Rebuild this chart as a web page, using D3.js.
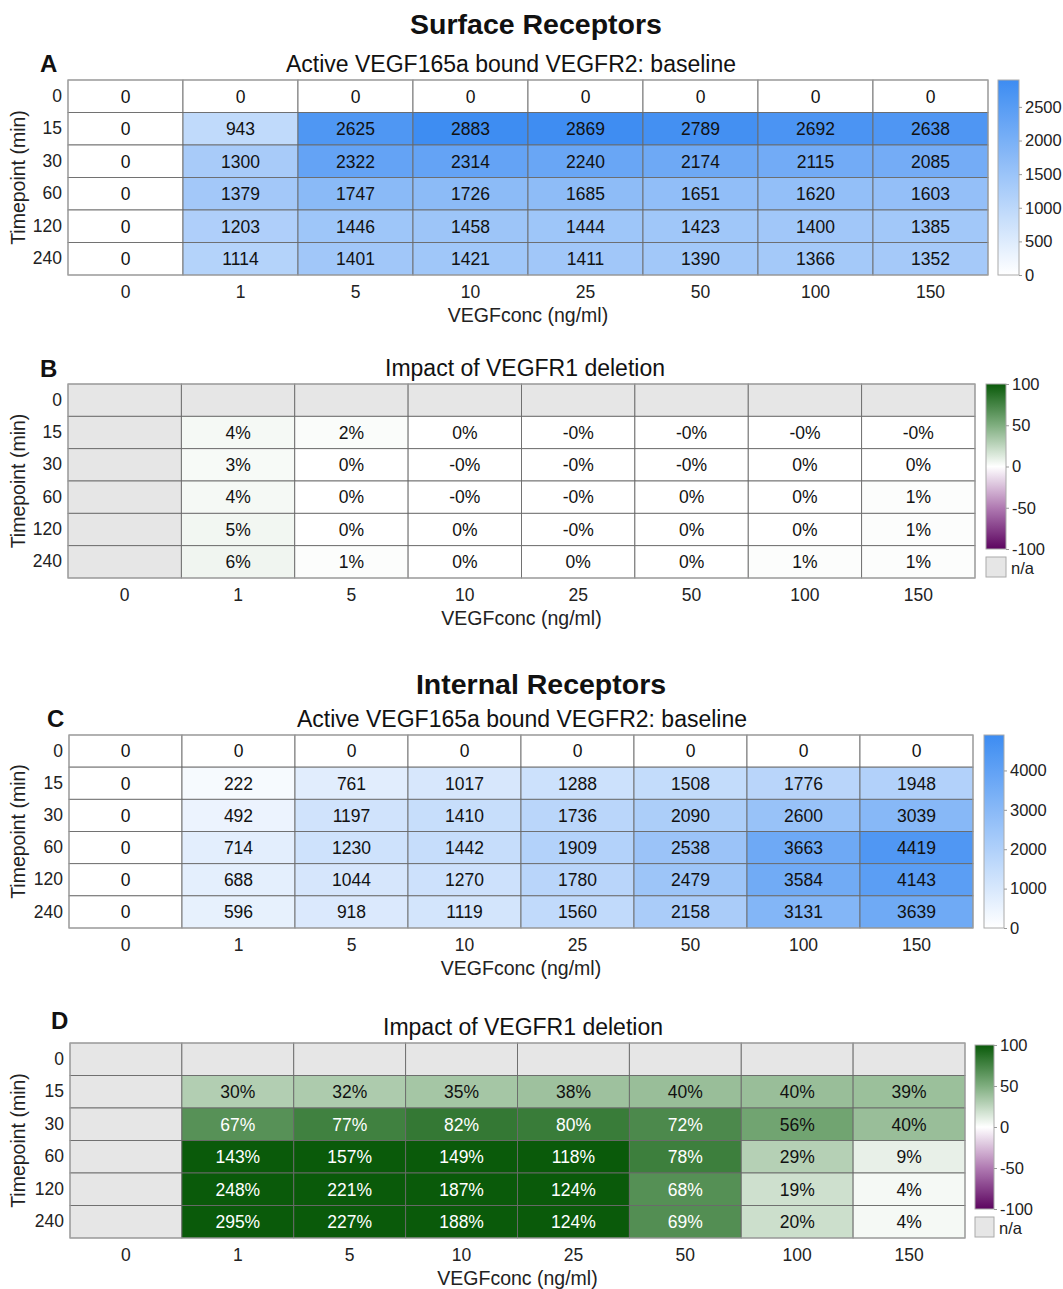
<!DOCTYPE html>
<html><head><meta charset="utf-8">
<script src="https://cdn.jsdelivr.net/npm/d3@7"></script>
<style>body{margin:0;background:#fff}svg{display:block}text{font-family:"Liberation Sans",Arial,Helvetica,sans-serif}</style>
</head><body>
<script>
const concs = ["0","1","5","10","25","50","100","150"];
const timepoints = ["0","15","30","60","120","240"];

// Panel A: surface receptors baseline (rows = timepoints, cols = concs)
const surfaceBaseline = [
  [0,0,0,0,0,0,0,0],
  [0,943,2625,2883,2869,2789,2692,2638],
  [0,1300,2322,2314,2240,2174,2115,2085],
  [0,1379,1747,1726,1685,1651,1620,1603],
  [0,1203,1446,1458,1444,1423,1400,1385],
  [0,1114,1401,1421,1411,1390,1366,1352]
];
// Panel B: impact of VEGFR1 deletion, surface (%), null = n/a
const surfaceImpact = [
  [null,null,null,null,null,null,null,null],
  [null,4,2,0,-0.1,-0.1,-0.1,-0.1],
  [null,3,0,-0.1,-0.1,-0.1,0,0],
  [null,4,0,-0.1,-0.1,0,0,1],
  [null,5,0,0,-0.1,0,0,1],
  [null,6,1,0,0,0,1,1]
];
// Panel C: internal receptors baseline
const internalBaseline = [
  [0,0,0,0,0,0,0,0],
  [0,222,761,1017,1288,1508,1776,1948],
  [0,492,1197,1410,1736,2090,2600,3039],
  [0,714,1230,1442,1909,2538,3663,4419],
  [0,688,1044,1270,1780,2479,3584,4143],
  [0,596,918,1119,1560,2158,3131,3639]
];
// Panel D: impact of VEGFR1 deletion, internal (%)
const internalImpact = [
  [null,null,null,null,null,null,null,null],
  [null,30,32,35,38,40,40,39],
  [null,67,77,82,80,72,56,40],
  [null,143,157,149,118,78,29,9],
  [null,248,221,187,124,68,19,4],
  [null,295,227,188,124,69,20,4]
];
const surfaceTicks = [0,500,1000,1500,2000,2500];
const internalTicks = [0,1000,2000,3000,4000];
const impactTicks = [-100,-50,0,50,100];

const W = 1063, H = 1289;
const FONT = '"Liberation Sans",Arial,Helvetica,sans-serif';
const svg = d3.select("body").append("svg").attr("width", W).attr("height", H);

const blueInterp = d3.interpolateRgb("#ffffff", "#3d8cf2");
const divColor = d3.scaleLinear().domain([-100,-50,0,50,100])
  .range(["#5c0560","#b07ab2","#ffffff","#7fae7f","#0a5a0a"]).clamp(true);

function fmtPct(v){ return (v<0 ? "-" : "") + Math.abs(Math.round(v)) + "%"; }

function drawPanel(o){
  const g = svg.append("g");
  const x = d3.scaleBand().domain(concs).range([o.x0, o.x1]);
  const y = d3.scaleBand().domain(timepoints).range([o.y0, o.y1]);
  const rows = [];
  o.data.forEach((r,i)=>r.forEach((v,j)=>rows.push({t:timepoints[i], c:concs[j], v})));
  let color, textColor, label;
  if (o.type === "seq"){
    const cs = d3.scaleLinear().domain([0,o.max]).range([0,1]).clamp(true);
    color = v => blueInterp(cs(v));
    textColor = () => "#111";
    label = v => String(v);
  } else {
    color = v => v === null ? "#e6e6e6" : divColor(v);
    textColor = v => (v !== null && v > 60) ? "#ffffff" : "#111";
    label = v => v === null ? "" : fmtPct(v);
  }
  g.selectAll("rect.cell").data(rows).join("rect")
    .attr("x", d=>x(d.c)).attr("y", d=>y(d.t))
    .attr("width", x.bandwidth()).attr("height", y.bandwidth())
    .attr("fill", d=>color(d.v)).attr("stroke", "#6a6a6a").attr("stroke-width", 0.9);
  g.append("rect").attr("x",o.x0).attr("y",o.y0).attr("width",o.x1-o.x0).attr("height",o.y1-o.y0)
    .attr("fill","none").attr("stroke","#a8a8a8").attr("stroke-width",1);
  g.selectAll("text.cell").data(rows).join("text")
    .attr("x", d=>x(d.c)+x.bandwidth()/2).attr("y", d=>y(d.t)+y.bandwidth()/2)
    .attr("dy","0.36em").attr("text-anchor","middle").attr("font-size",17.5)
    .attr("fill", d=>textColor(d.v)).text(d=>label(d.v));

  // axes
  const xa = g.append("g").attr("transform",`translate(0,${o.y1})`)
    .call(d3.axisBottom(x).tickSize(0).tickPadding(11));
  xa.select(".domain").remove();
  xa.selectAll("text").attr("font-size",17.5).attr("fill","#222").style("font-family",FONT);
  const ya = g.append("g").attr("transform",`translate(${o.x0},0)`)
    .call(d3.axisLeft(y).tickSize(0).tickPadding(6));
  ya.select(".domain").remove();
  ya.selectAll("text").attr("font-size",17.5).attr("fill","#222").style("font-family",FONT);

  g.append("text").attr("x",(o.x0+o.x1)/2).attr("y",o.y1+47).attr("text-anchor","middle")
    .attr("font-size",19.5).attr("fill","#222").text("VEGFconc (ng/ml)");
  g.append("text").attr("transform",`translate(25,${(o.y0+o.y1)/2}) rotate(-90)`)
    .attr("text-anchor","middle").attr("font-size",19.5).attr("fill","#222").text("Timepoint (min)");
  g.append("text").attr("x",o.titleX).attr("y",o.y0-8).attr("text-anchor","middle")
    .attr("font-size",23).attr("fill","#111").text(o.title);
  g.append("text").attr("x",o.letterX).attr("y",o.letterY).attr("font-size",24)
    .attr("font-weight","bold").attr("fill","#111").text(o.letter);

  // colorbar
  const cb = o.cb;
  const defs = svg.append("defs");
  const gid = "grad"+o.letter;
  const grad = defs.append("linearGradient").attr("id",gid).attr("x1",0).attr("y1",1).attr("x2",0).attr("y2",0);
  let cbScale;
  if (o.type === "seq"){
    cbScale = d3.scaleLinear().domain([0,o.max]).range([cb.y1, cb.y0]);
    d3.range(0,1.0001,0.1).forEach(t=>grad.append("stop").attr("offset",t).attr("stop-color",blueInterp(t)));
  } else {
    cbScale = d3.scaleLinear().domain([-100,100]).range([cb.y1, cb.y0]);
    d3.range(0,1.0001,0.05).forEach(t=>grad.append("stop").attr("offset",t).attr("stop-color",divColor(-100+200*t)));
  }
  g.append("rect").attr("x",cb.x).attr("y",cb.y0).attr("width",cb.w).attr("height",cb.y1-cb.y0)
    .attr("fill",`url(#${gid})`).attr("stroke","#aaa").attr("stroke-width",1);
  const ca = g.append("g").attr("transform",`translate(${cb.x+cb.w},0)`)
    .call(d3.axisRight(cbScale).tickValues(o.ticks).tickSize(3).tickPadding(3).tickFormat(d=>String(d)));
  ca.select(".domain").remove();
  ca.selectAll("line").attr("stroke","#999");
  ca.selectAll("text").attr("font-size",16.5).attr("fill","#222").style("font-family",FONT);
  if (o.type === "div"){
    g.append("rect").attr("x",cb.x).attr("y",cb.y1+8).attr("width",cb.w).attr("height",20)
      .attr("fill","#e6e6e6").attr("stroke","#aaa");
    g.append("text").attr("x",cb.x+cb.w+5).attr("y",cb.y1+25).attr("font-size",16.5).attr("fill","#222").text("n/a");
  }
}

svg.append("text").attr("x",536).attr("y",34).attr("text-anchor","middle").attr("font-size",28.5)
  .attr("font-weight","bold").attr("fill","#111").text("Surface Receptors");
svg.append("text").attr("x",541).attr("y",694).attr("text-anchor","middle").attr("font-size",28.5)
  .attr("font-weight","bold").attr("fill","#111").text("Internal Receptors");

drawPanel({letter:"A", letterX:40, letterY:72, title:"Active VEGF165a bound VEGFR2: baseline", titleX:511,
  data:surfaceBaseline, type:"seq", max:2900, ticks:surfaceTicks,
  x0:68, x1:988, y0:80, y1:275, cb:{x:998, w:21, y0:80, y1:275}});
drawPanel({letter:"B", letterX:40, letterY:377, title:"Impact of VEGFR1 deletion", titleX:525,
  data:surfaceImpact, type:"div", ticks:impactTicks,
  x0:68, x1:975, y0:384, y1:578, cb:{x:986, w:20, y0:384, y1:549}});
drawPanel({letter:"C", letterX:47, letterY:727, title:"Active VEGF165a bound VEGFR2: baseline", titleX:522,
  data:internalBaseline, type:"seq", max:4900, ticks:internalTicks,
  x0:69, x1:973, y0:735, y1:928, cb:{x:984, w:20, y0:735, y1:928}});
drawPanel({letter:"D", letterX:51, letterY:1029, title:"Impact of VEGFR1 deletion", titleX:523,
  data:internalImpact, type:"div", ticks:impactTicks,
  x0:70, x1:965, y0:1043, y1:1238, cb:{x:975, w:19, y0:1045, y1:1209}});
</script>
</body></html>
